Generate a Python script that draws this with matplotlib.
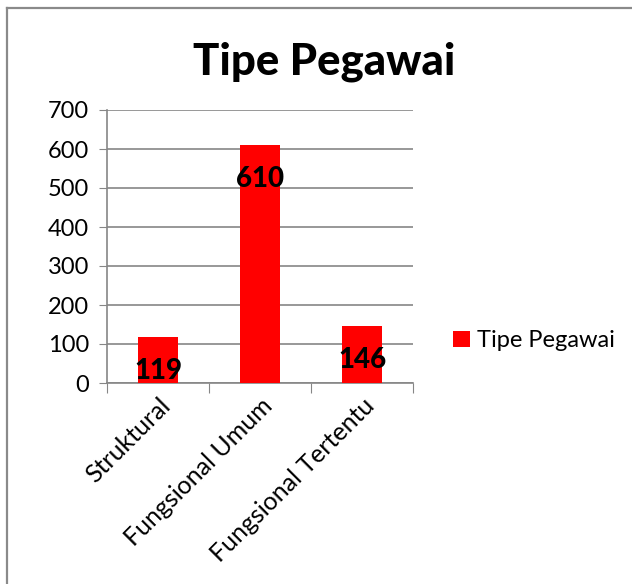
import matplotlib.pyplot as plt
from matplotlib.lines import Line2D

categories = ["Struktural", "Fungsional Umum", "Fungsional Tertentu"]
values = [119, 610, 146]
series_name = "Tipe Pegawai"
yticks = [0, 100, 200, 300, 400, 500, 600, 700]

plt.rcParams['font.family'] = ['Lato', 'DejaVu Sans']

fig = plt.figure(figsize=(6.32, 5.84), dpi=100)
ax = fig.add_axes([107/632, 1-383/584, (413-107)/632, (383-110)/584])

# outer chart border (only top and left visible)
fig.add_artist(Line2D([7/632, 7/632], [0, 1-8/584], color='#8a8a8a', lw=1.6, transform=fig.transFigure))
fig.add_artist(Line2D([7/632, 1], [1-8/584, 1-8/584], color='#8a8a8a', lw=1.6, transform=fig.transFigure))

x = range(len(categories))
bars = ax.bar(x, values, width=0.4, color='#ff0000', label=series_name, zorder=3)

for b, v in zip(bars, values):
    ax.annotate(str(v), (b.get_x() + b.get_width()/2, v), xytext=(0, -34),
                textcoords='offset pixels', ha='center', va='center',
                fontsize=20, fontweight='black', zorder=4)

ax.set_xlim(-0.5, 2.5)
ax.set_ylim(0, 700)
ax.set_yticks(yticks)
ax.yaxis.grid(True, color='#868686', lw=1.2, zorder=0)
ax.tick_params(axis='y', length=6, color='#868686', labelsize=17, pad=7)
ax.set_xticks([-0.5, 0.5, 1.5, 2.5])
ax.set_xticklabels([])
ax.tick_params(axis='x', length=7, color='#868686')
ax.set_xticks(list(x), minor=True)
ax.set_xticklabels(categories, minor=True, rotation=45, ha='right',
                   rotation_mode='anchor', fontsize=18)
ax.tick_params(axis='x', which='minor', length=0, pad=8)

for s in ['top', 'right']:
    ax.spines[s].set_visible(False)
for s in ['left', 'bottom']:
    ax.spines[s].set_color('#868686')
    ax.spines[s].set_linewidth(1.2)

fig.text(324/632, 1-62/584, "Tipe Pegawai", ha='center', va='center',
         fontsize=31.5, fontweight='black')

fig.legend(loc='center left', bbox_to_anchor=(432/632, 1-341/584), frameon=False,
           fontsize=17, handlelength=0.7, handleheight=0.7, handletextpad=0.3)

fig.savefig("out.png", dpi=100)
